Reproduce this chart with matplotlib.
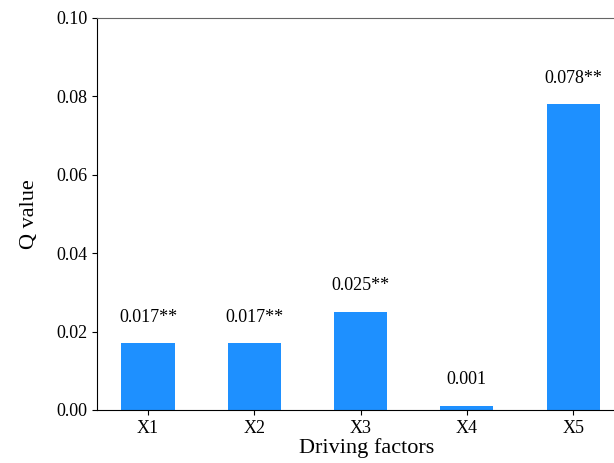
import numpy as np
import matplotlib.pyplot as plt

plt.rcParams['font.family'] = ['Liberation Serif', 'DejaVu Serif']

factors = ['X1', 'X2', 'X3', 'X4', 'X5']
q_values = [0.017, 0.017, 0.025, 0.001, 0.078]
labels = ['0.017**', '0.017**', '0.025**', '0.001', '0.078**']

fig = plt.figure(figsize=(6.14, 4.63), dpi=100)
# axes run past the right edge of the figure (cropped like the original)
ax = fig.add_axes([97/614, 53/463, 540/614, 392/463])

x = np.arange(len(factors))
ax.bar(x, q_values, width=0.5, color='#1E90FF')
for xi, v, t in zip(x, q_values, labels):
    ax.text(xi, v + 0.0045, t, ha='center', va='bottom', fontsize=13)

ax.set_xlim(-0.48, 4.6)
ax.set_ylim(0, 0.1)
ax.set_yticks([0, 0.02, 0.04, 0.06, 0.08, 0.10])
ax.set_yticklabels(['0.00', '0.02', '0.04', '0.06', '0.08', '0.10'])
ax.set_xticks(x)
ax.set_xticklabels(factors)
ax.tick_params(labelsize=13)
ax.spines['top'].set_color('#666666')
ax.spines['right'].set_visible(False)
ax.set_xlabel('Driving factors', fontsize=16, labelpad=1)
ax.set_ylabel('Q value', fontsize=16, labelpad=12)

fig.savefig('out.png', dpi=100)
